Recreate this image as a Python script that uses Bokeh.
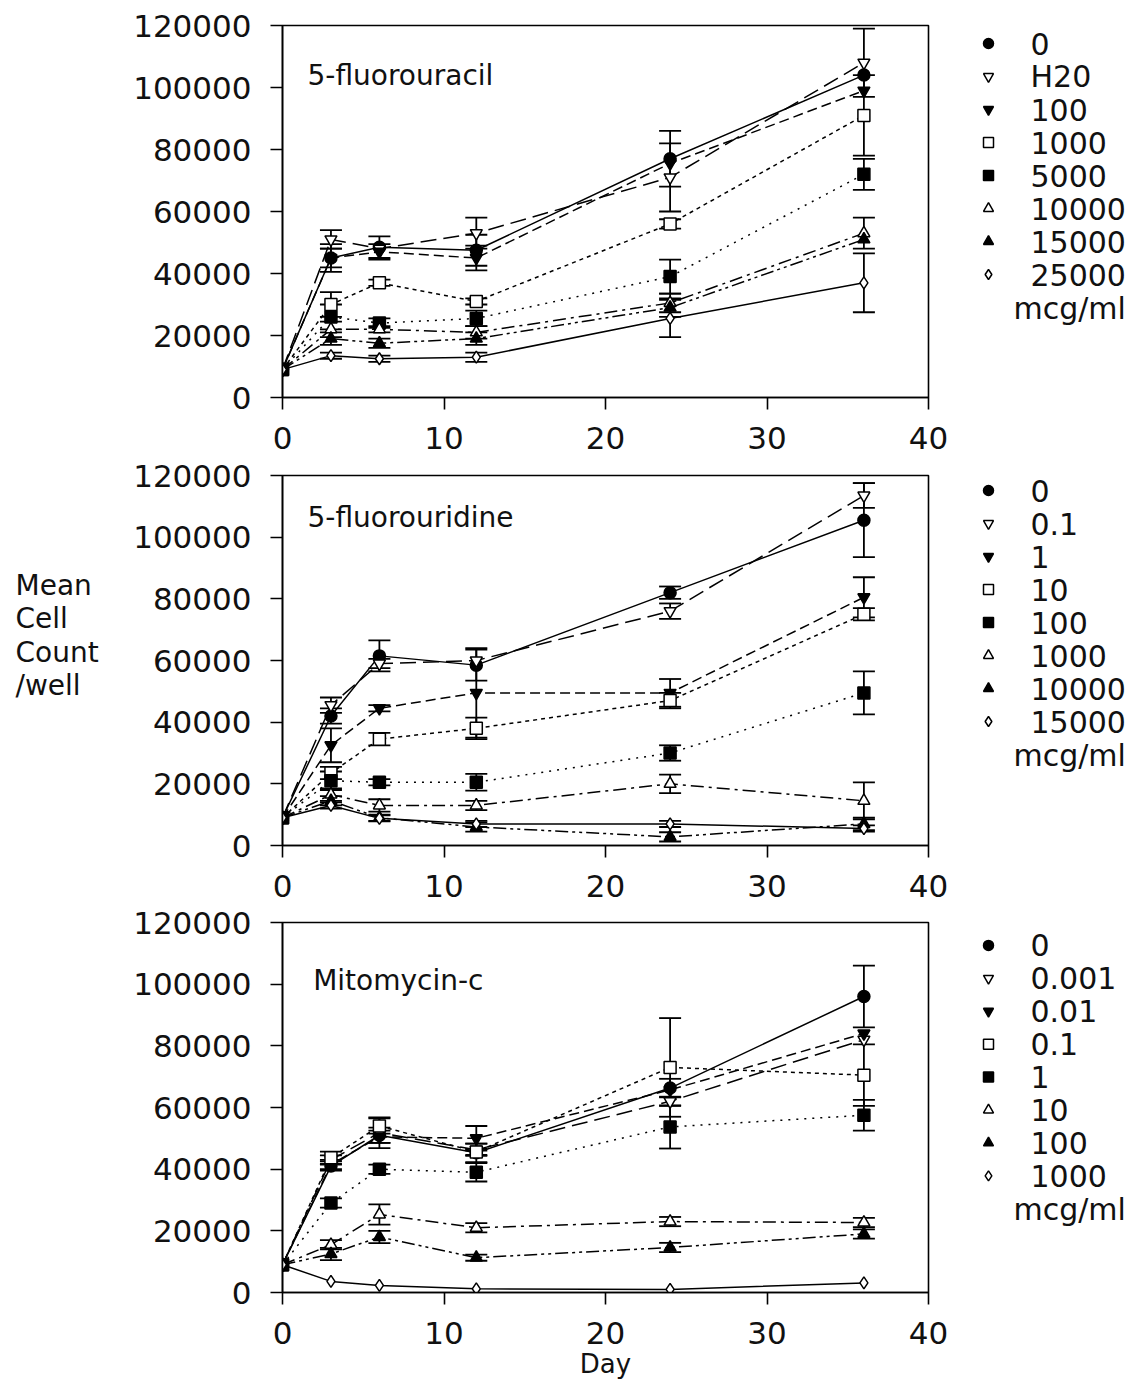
from bokeh.plotting import figure
from bokeh.layouts import column, row
from bokeh.models import (ColumnDataSource, Whisker, TeeHead, Label,
                          FixedTicker, NumeralTickFormatter)
from bokeh.core.properties import value
from bokeh.embed import file_html
from bokeh.resources import INLINE

DAYS = [0, 3, 6, 12, 24, 36]
X_TICKS = [0, 10, 20, 30, 40]
Y_TICKS = [0, 20000, 40000, 60000, 80000, 100000, 120000]
UNIT = "mcg/ml"

FU_TITLE = "5-fluorouracil"
FU_LABELS = ["0", "H20", "100", "1000", "5000", "10000", "15000", "25000"]
FU_MEAN = [
    [9000, 45000, 48500, 47500, 77000, 104000],
    [9000, 51000, 48000, 53000, 71000, 108000],
    [9000, 45000, 47000, 45000, 75500, 99000],
    [9000, 30000, 37000, 31000, 56000, 91000],
    [9000, 26000, 24000, 25500, 39000, 72000],
    [9000, 22000, 22000, 21000, 30500, 53000],
    [9000, 19000, 17500, 19000, 29000, 51000],
    [9000, 13500, 12500, 13000, 25500, 37000],
]
FU_ERR = [
    [0, 4500, 3500, 5000, 9000, 0],
    [0, 3000, 0, 5000, 11000, 11000],
    [0, 3000, 2500, 4000, 0, 0],
    [0, 4000, 1000, 1000, 1500, 13000],
    [0, 4000, 1500, 2500, 5500, 5000],
    [0, 2500, 1000, 2000, 3000, 5000],
    [0, 2000, 1500, 2000, 3000, 0],
    [0, 1000, 1000, 1500, 6000, 9500],
]

FUR_TITLE = "5-fluorouridine"
FUR_LABELS = ["0", "0.1", "1", "10", "100", "1000", "10000", "15000"]
FUR_MEAN = [
    [9000, 42000, 61500, 58500, 82000, 105500],
    [9000, 45500, 59000, 60000, 76000, 113500],
    [9000, 32500, 44500, 49500, 49500, 80500],
    [9000, 23500, 34500, 38000, 47000, 75000],
    [9000, 21000, 20500, 20500, 30000, 49500],
    [9000, 16500, 13000, 13000, 20000, 14500],
    [9000, 14500, 9000, 6000, 2800, 7000],
    [9000, 13000, 8800, 7000, 7000, 5500],
]
FUR_ERR = [
    [0, 2500, 5000, 5000, 2000, 12000],
    [0, 2500, 1500, 0, 2500, 4000],
    [0, 5500, 1000, 14500, 4500, 6500],
    [0, 2000, 2000, 3500, 2500, 2000],
    [0, 3000, 1000, 2700, 2500, 7000],
    [0, 2000, 2000, 1500, 3000, 6000],
    [0, 1500, 1000, 1500, 1500, 2000],
    [0, 1000, 1000, 1000, 1000, 1000],
]

MMC_TITLE = "Mitomycin-c"
MMC_LABELS = ["0", "0.001", "0.01", "0.1", "1", "10", "100", "1000"]
MMC_MEAN = [
    [9000, 41000, 51000, 45300, 66300, 96000],
    [9000, 43000, 51800, 46300, 62000, 82000],
    [9000, 41500, 50500, 50000, 65700, 84000],
    [9000, 43700, 54000, 45600, 73000, 70500],
    [9000, 29000, 40000, 39000, 53700, 57500],
    [9000, 15500, 25300, 21000, 23000, 22700],
    [9000, 12500, 18000, 11300, 14600, 19000],
    [9000, 3600, 2300, 1200, 1000, 3100],
]
MMC_ERR = [
    [0, 1500, 2500, 3000, 3000, 10000],
    [0, 1500, 5000, 2000, 1500, 0],
    [0, 1500, 2000, 4000, 0, 0],
    [0, 2000, 2500, 1000, 16000, 10000],
    [0, 1500, 1500, 3000, 7000, 5000],
    [0, 1500, 3300, 1500, 1500, 1500],
    [0, 2000, 2000, 1000, 1500, 1500],
    [0, 0, 0, 0, 0, 0],
]

Y_LABEL_LINES = ["Mean", "Cell", "Count", "/well"]
X_LABEL = "Day"

# (marker, filled, dash)
STYLES = [
    ("circle", True, "solid"),
    ("inverted_triangle", False, "16 7"),
    ("inverted_triangle", True, "10 5"),
    ("square", False, "4 4"),
    ("square", True, "2 6"),
    ("triangle", False, "13 5 3 5"),
    ("triangle", True, "13 4 3 4 3 4"),
    ("diamond", False, "solid"),
]

FONT = "DejaVu Sans"
TXT = "#111111"
FRAME_W = 646
RIGHT_B = 22
LEG_W = 176
YL_W = 112


def make_panel(title, title_xy, labels, means, errs, left, top, frame_h, bottom):
    p = figure(width=left + FRAME_W + RIGHT_B, height=top + frame_h + bottom,
               x_range=(0, 40), y_range=(0, 120000),
               min_border_left=left, min_border_right=RIGHT_B,
               min_border_top=top, min_border_bottom=bottom,
               output_backend="svg", toolbar_location=None)
    p.grid.visible = False
    p.outline_line_color = "black"
    p.outline_line_width = 1.6
    p.xaxis.ticker = FixedTicker(ticks=X_TICKS)
    p.yaxis.ticker = FixedTicker(ticks=Y_TICKS)
    p.yaxis.formatter = NumeralTickFormatter(format="0")
    for ax in list(p.xaxis) + list(p.yaxis):
        ax.axis_line_width = 1.6
        ax.axis_line_color = "black"
        ax.major_tick_line_width = 1.6
        ax.major_tick_line_color = "black"
        ax.major_tick_out = 12
        ax.major_tick_in = 0
        ax.minor_tick_out = 0
        ax.minor_tick_in = 0
        ax.major_label_text_font = FONT
        ax.major_label_text_font_size = "31px"
        ax.major_label_text_color = TXT
    p.yaxis.major_label_standoff = 19
    p.xaxis.major_label_standoff = 17

    for i, (lab, m, e) in enumerate(zip(labels, means, errs)):
        marker, filled, dash = STYLES[i]
        p.line(DAYS, m, line_color="black", line_width=1.5, line_dash=dash)
        bx = [d for d, ee in zip(DAYS, e) if ee > 0]
        up = [mm + ee for mm, ee in zip(m, e) if ee > 0]
        lo = [mm - ee for mm, ee in zip(m, e) if ee > 0]
        if bx:
            src = ColumnDataSource(dict(base=bx, upper=up, lower=lo))
            w = Whisker(base="base", upper="upper", lower="lower", source=src,
                        line_color="black", line_width=1.8,
                        upper_head=TeeHead(size=22, line_width=1.8, line_color="black"),
                        lower_head=TeeHead(size=22, line_width=1.8, line_color="black"))
            p.add_layout(w)
        p.scatter(DAYS, m, marker=marker, size=12,
                  fill_color="black" if filled else "white",
                  line_color="black", line_width=1.5)

    p.add_layout(Label(x=title_xy[0], y=title_xy[1], text=title, text_font=FONT,
                       text_font_size="28px", text_baseline="middle",
                       text_color=TXT))
    return p


def blank_fig(width, top, frame_h, bottom):
    f = figure(width=width, height=top + frame_h + bottom,
               x_range=(0, width), y_range=(frame_h, 0),
               x_axis_type=None, y_axis_type=None,
               min_border_left=0, min_border_right=0,
               min_border_top=top, min_border_bottom=bottom,
               output_backend="svg", toolbar_location=None)
    f.grid.visible = False
    f.outline_line_color = None
    return f


def make_legend(labels, top, frame_h, bottom, first_y):
    lg = blank_fig(LEG_W, top, frame_h, bottom)
    n = len(labels)
    ys = [first_y + 33 * i for i in range(n)]
    for i, (lab, yy) in enumerate(zip(labels, ys)):
        marker, filled, dash = STYLES[i]
        lg.scatter([38], [yy], marker=marker, size=10,
                   fill_color="black" if filled else "white",
                   line_color="black", line_width=1.5)
    lg.text([80] * n, ys, text=labels, text_font=value(FONT), text_font_size="30px",
            text_baseline="middle", text_color=TXT)
    lg.text([63], [first_y + 33 * n + 1], text=[UNIT], text_font=value(FONT),
            text_font_size="30px", text_baseline="middle", text_color=TXT)
    return lg


def make_ylabel(top, frame_h, bottom):
    yl = blank_fig(YL_W, top, frame_h, bottom)
    yl.text([15] * 4, [110, 143, 177, 210], text=Y_LABEL_LINES, text_font=value(FONT),
            text_font_size="28px", text_baseline="middle", text_color=TXT)
    return yl


# row 1: frame 25 -> 397
T1, F1, B1 = 25, 372, 61
p1 = make_panel(FU_TITLE, (1.55, 104000), FU_LABELS, FU_MEAN, FU_ERR, 282, T1, F1, B1)
l1 = make_legend(FU_LABELS, T1, F1, B1, 18)

# row 2: frame 475 -> 845
T2, F2, B2 = 17, 370, 59
p2 = make_panel(FUR_TITLE, (1.55, 106400), FUR_LABELS, FUR_MEAN, FUR_ERR, 282 - YL_W,
                T2, F2, B2)
l2 = make_legend(FUR_LABELS, T2, F2, B2, 15)
y2 = make_ylabel(T2, F2, B2)

# row 3: frame 922 -> 1293
T3, F3, B3 = 18, 371, 88
p3 = make_panel(MMC_TITLE, (1.9, 101300), MMC_LABELS, MMC_MEAN, MMC_ERR, 282, T3, F3, B3)
p3.xaxis.axis_label = X_LABEL
p3.xaxis.axis_label_text_font = FONT
p3.xaxis.axis_label_text_font_size = "26px"
p3.xaxis.axis_label_text_font_style = "normal"
p3.xaxis.axis_label_text_color = TXT
p3.xaxis.axis_label_standoff = 2
l3 = make_legend(MMC_LABELS, T3, F3, B3, 23)

layout = column(row(p1, l1, spacing=0), row(y2, p2, l2, spacing=0),
                row(p3, l3, spacing=0), spacing=0)
open("out.html", "w").write(file_html(layout, INLINE))
